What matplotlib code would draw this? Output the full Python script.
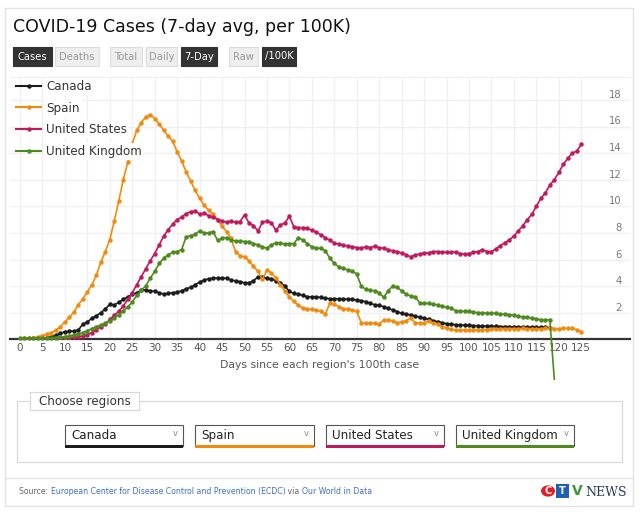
import matplotlib
matplotlib.use("Agg")
import matplotlib.pyplot as plt
from matplotlib.patches import Rectangle, Circle
from matplotlib.lines import Line2D

# ---------------- data ----------------
canada = [0.03, 0.04, 0.05, 0.06, 0.08, 0.1, 0.13, 0.2, 0.3, 0.45,
          0.57, 0.6, 0.62, 0.7, 1.15, 1.3, 1.58, 1.77, 2.0, 2.28,
          2.63, 2.58, 2.78, 3.0, 3.2, 3.38, 3.5, 3.7, 3.7, 3.65,
          3.6, 3.5, 3.4, 3.45, 3.5, 3.55, 3.65, 3.8, 3.9, 4.1,
          4.3, 4.45, 4.55, 4.6, 4.6, 4.6, 4.6, 4.45, 4.4, 4.33,
          4.25, 4.25, 4.4, 4.7, 4.65, 4.6, 4.55, 4.4, 4.25, 4.0,
          3.6, 3.45, 3.4, 3.3, 3.2, 3.2, 3.18, 3.15, 3.1, 3.05,
          3.05, 3.05, 3.05, 3.0, 3.0, 2.95, 2.9, 2.83, 2.7, 2.6,
          2.55, 2.45, 2.33, 2.2, 2.08, 1.95, 1.9, 1.83, 1.75, 1.65,
          1.58, 1.5, 1.4, 1.33, 1.25, 1.18, 1.13, 1.1, 1.08, 1.06,
          1.05, 1.03, 1.02, 1.0, 1.0, 0.98, 0.97, 0.96, 0.95, 0.95,
          0.94, 0.93, 0.92, 0.92, 0.91, 0.9, 0.9, 0.89, 0.88]

spain = [0.05, 0.07, 0.1, 0.13, 0.18, 0.28, 0.38, 0.5, 0.68, 0.95,
         1.3, 1.65, 2.05, 2.6, 3.05, 3.55, 4.1, 4.8, 5.8, 6.6,
         7.5, 8.9, 10.4, 12.0, 13.3, 14.7, 15.7, 16.3, 16.7, 16.9,
         16.6, 16.2, 15.7, 15.3, 14.9, 14.1, 13.4, 12.6, 11.9, 11.2,
         10.6, 10.1, 9.7, 9.4, 9.0, 8.5, 8.1, 7.6, 6.6, 6.3,
         6.2, 5.9, 5.5, 5.1, 4.5, 5.2, 5.0, 4.6, 4.1, 3.6,
         3.2, 2.85, 2.55, 2.35, 2.3, 2.25, 2.2, 2.1, 1.9, 2.7,
         2.65, 2.45, 2.3, 2.25, 2.2, 2.1, 1.25, 1.2, 1.2, 1.2,
         1.15, 1.45, 1.45, 1.4, 1.25, 1.3, 1.4, 1.6, 1.25, 1.2,
         1.2, 1.4, 1.2, 1.15, 0.9, 0.85, 0.75, 0.7, 0.7, 0.68,
         0.68, 0.7, 0.7, 0.72, 0.72, 0.75, 0.78, 0.8, 0.8, 0.8,
         0.8, 0.8, 0.82, 0.8, 0.8, 0.8, 0.8, 0.82, 0.82, 0.8,
         0.8, 0.82, 0.83, 0.82, 0.72, 0.58]

united_states = [0.02, 0.02, 0.02, 0.03, 0.03, 0.04, 0.05, 0.06, 0.07, 0.08,
                 0.1, 0.12, 0.15, 0.2, 0.25, 0.35, 0.5, 0.7, 0.95, 1.15,
                 1.5, 1.8, 2.1, 2.5, 3.0, 3.5, 4.1, 4.7, 5.3, 5.9,
                 6.45, 7.1, 7.75, 8.25, 8.65, 9.0, 9.2, 9.45, 9.6, 9.65,
                 9.42, 9.47, 9.3, 9.2, 9.0, 8.9, 8.8, 8.9, 8.8, 8.85,
                 9.35, 8.75, 8.55, 8.15, 8.8, 8.9, 8.75, 8.2, 8.6, 8.75,
                 9.25, 8.45, 8.4, 8.4, 8.35, 8.2, 8.05, 7.85, 7.65, 7.45,
                 7.25, 7.15, 7.1, 7.0, 6.97, 6.9, 6.85, 6.97, 6.9, 7.0,
                 6.9, 6.85, 6.75, 6.65, 6.6, 6.48, 6.35, 6.2, 6.35, 6.4,
                 6.48, 6.5, 6.6, 6.6, 6.55, 6.55, 6.55, 6.55, 6.45, 6.42,
                 6.45, 6.55, 6.6, 6.75, 6.6, 6.6, 6.8, 7.05, 7.27, 7.47,
                 7.77, 8.15, 8.55, 9.0, 9.4, 10.0, 10.6, 11.0, 11.6, 12.0,
                 12.55, 13.15, 13.6, 14.0, 14.15, 14.65]

united_kingdom = [0.07, 0.07, 0.08, 0.08, 0.09, 0.1, 0.1, 0.12, 0.13, 0.15,
                  0.2, 0.25, 0.33, 0.4, 0.5, 0.65, 0.8, 0.95, 1.07, 1.2,
                  1.4, 1.6, 1.85, 2.1, 2.45, 2.8, 3.3, 3.7, 4.0, 4.6,
                  5.1, 5.7, 6.1, 6.35, 6.55, 6.6, 6.75, 7.7, 7.8, 7.9,
                  8.15, 8.0, 8.0, 8.1, 7.45, 7.6, 7.65, 7.45, 7.4, 7.4,
                  7.35, 7.35, 7.2, 7.1, 6.95, 6.85, 7.1, 7.25, 7.25, 7.15,
                  7.2, 7.2, 7.65, 7.45, 7.2, 6.95, 6.85, 6.85, 6.65, 6.1,
                  5.7, 5.45, 5.35, 5.2, 5.15, 4.9, 4.0, 3.75, 3.7, 3.65,
                  3.5, 3.15, 3.65, 4.0, 3.9, 3.65, 3.4, 3.25, 3.2, 2.75,
                  2.7, 2.7, 2.65, 2.58, 2.5, 2.4, 2.35, 2.15, 2.1, 2.1,
                  2.1, 2.05, 2.0, 2.0, 1.95, 1.95, 1.95, 1.9, 1.9, 1.85,
                  1.82, 1.72, 1.68, 1.66, 1.6, 1.53, 1.48, 1.45, 1.48, -3.0]

series_names = ["Canada", "Spain", "United States", "United Kingdom"]
series_colors = ["#1c1c1c", "#f28a0e", "#c2185e", "#4e8a1d"]
x_ticks = list(range(0, 126, 5))
y_ticks = list(range(2, 19, 2))

# ---------------- figure ----------------
W, H = 640, 512
fig = plt.figure(figsize=(W / 100, H / 100), dpi=100)
fig.patch.set_facecolor("white")


def fx(x):
    return x / W


def fy(y):
    return 1 - y / H


def rect(x0, y0, x1, y1, **kw):
    r = Rectangle((fx(x0), fy(y1)), (x1 - x0) / W, (y1 - y0) / H,
                  transform=fig.transFigure, **kw)
    fig.add_artist(r)
    return r


def text(x, y, s, **kw):
    return fig.text(fx(x), fy(y), s, **kw)


# card border
rect(5, 8, 633, 506, facecolor="white", edgecolor="#e2e2e2", lw=1.0, zorder=0)

# title
text(13, 27, "COVID-19 Cases (7-day avg, per 100K)", fontsize=12.5,
     color="#111111", va="center", ha="left")

# buttons
buttons = [("Cases", 13, 52, True), ("Deaths", 55, 99, False),
           ("Total", 110, 142, False), ("Daily", 146, 177, False),
           ("7-Day", 181, 217, True), ("Raw", 229, 258, False),
           ("/100K", 262, 296, True)]
for label, x0, x1, active in buttons:
    rect(x0, 47, x1, 66, facecolor="#333333" if active else "#eeeeee",
         edgecolor="#333333" if active else "#dddddd", lw=0.8, zorder=1)
    text((x0 + x1) / 2, 56.5, label, fontsize=7.2,
         color="white" if active else "#999999", ha="center", va="center",
         zorder=2)

# ---------------- axes ----------------
ax_left, ax_right, ax_top, ax_bottom = 10, 630, 77, 339.3
ax = fig.add_axes([fx(ax_left), fy(ax_bottom), (ax_right - ax_left) / W,
                   (ax_bottom - ax_top) / H])
px_per_day = 4.49
day0 = 20
px_per_unit = 13.3
ax.set_xlim((ax_left - day0) / px_per_day, (ax_right - day0) / px_per_day)
ax.set_ylim(0, (ax_bottom - ax_top) / px_per_unit)

all_series = [canada, spain, united_states, united_kingdom]
handles = []
for name, vals, col in zip(series_names, all_series, series_colors):
    days = list(range(len(vals)))
    if name == "United Kingdom":
        mev = list(range(len(vals) - 1))
        clip = False
    else:
        mev = None
        clip = True
    ax.plot(days, vals, color=col, lw=1.2, marker="o", markersize=3.2,
            markeredgewidth=0, markevery=mev, clip_on=clip, zorder=3)
    handles.append(Line2D([0], [0], color=col, lw=1.5, marker="o",
                          markersize=3.2, markeredgewidth=0))

ax.set_xticks(x_ticks)
ax.set_xticklabels([str(t) for t in x_ticks])
ax.set_yticks(y_ticks)
ax.yaxis.tick_right()
ax.tick_params(axis="x", length=0, pad=3, labelsize=7.5, labelcolor="#555555")
ax.tick_params(axis="y", length=0, pad=-6, labelsize=7.2, labelcolor="#777777")
for lab in ax.get_yticklabels():
    lab.set_horizontalalignment("right")
    lab.set_verticalalignment("bottom")
ax.grid(True, color="#efefef", lw=0.9, zorder=0)
ax.set_axisbelow(True)
for s in ["left", "right"]:
    ax.spines[s].set_visible(False)
ax.spines["top"].set_color("#eeeeee")
ax.spines["top"].set_linewidth(0.8)
ax.spines["bottom"].set_color("#333333")
ax.spines["bottom"].set_linewidth(1.6)
ax.set_xlabel("Days since each region's 100th case", fontsize=7.8,
              color="#555555", labelpad=5)

leg = ax.legend(handles, series_names, loc="upper left",
                bbox_to_anchor=(fx(13), fy(77)),
                bbox_transform=fig.transFigure, frameon=False,
                fontsize=8.6, handlelength=2.1, handletextpad=0.45,
                labelspacing=0.72, borderpad=0.25, borderaxespad=0,
                numpoints=1)
leg.set_zorder(5)
for t in leg.get_texts():
    t.set_color("#333333")
    t.set_bbox(dict(facecolor="white", edgecolor="none", pad=1.5))

# ---------------- region chooser ----------------
rect(17, 401, 622, 462, facecolor="none", edgecolor="#d8d8d8", lw=0.9, zorder=1)
rect(30, 392, 139, 410, facecolor="white", edgecolor="#d8d8d8", lw=0.9, zorder=2)
text(84.5, 401, "Choose regions", fontsize=8.6, color="#333333",
     ha="center", va="center", zorder=3)

dropdowns = [(65, 183), (195, 314), (326, 444), (456, 574)]
for (x0, x1), name, col in zip(dropdowns, series_names, series_colors):
    rect(x0, 425, x1, 446, facecolor="white", edgecolor="#555555", lw=0.8,
         zorder=2)
    rect(x0, 445, x1, 447.5, facecolor=col, edgecolor="none", zorder=3)
    text(x0 + 6, 435.5, name, fontsize=8.6, color="#222222", ha="left",
         va="center", zorder=4)
    text(x1 - 8, 434, "v", fontsize=6, color="#888888", ha="center",
         va="center", zorder=4)

# footer
fig.add_artist(Line2D([fx(5), fx(633)], [fy(478), fy(478)],
                      transform=fig.transFigure, color="#e2e2e2", lw=0.9))
renderer = fig.canvas.get_renderer()
xpos = 19
parts = [("Source: ", "#666666"),
         ("European Center for Disease Control and Prevention (ECDC)", "#3d6fc8"),
         (" via ", "#666666"),
         ("Our World in Data", "#3d6fc8")]
for s, c in parts:
    t = text(xpos, 491, s, fontsize=5.6, color=c, ha="left", va="center")
    bb = t.get_window_extent(renderer)
    xpos += bb.width

# CTV News logo
fig.add_artist(Circle((fx(548), fy(491)), 7 / W, transform=fig.transFigure,
                      facecolor="#e31b23", edgecolor="none"))
text(548, 491.5, "C", fontsize=7, color="white", ha="center", va="center",
     fontweight="bold")
rect(556, 484, 569, 498, facecolor="#1f5fb8", edgecolor="none")
text(562.5, 491.5, "T", fontsize=7, color="white", ha="center", va="center",
     fontweight="bold")
text(577, 491, "V", fontsize=10, color="#3a9a3a", ha="center", va="center",
     fontweight="bold")
text(585, 492, "NEWS", fontsize=9, color="#2b3a55", ha="left", va="center",
     family="DejaVu Serif")

fig.savefig("out.png", dpi=100, facecolor="white")
